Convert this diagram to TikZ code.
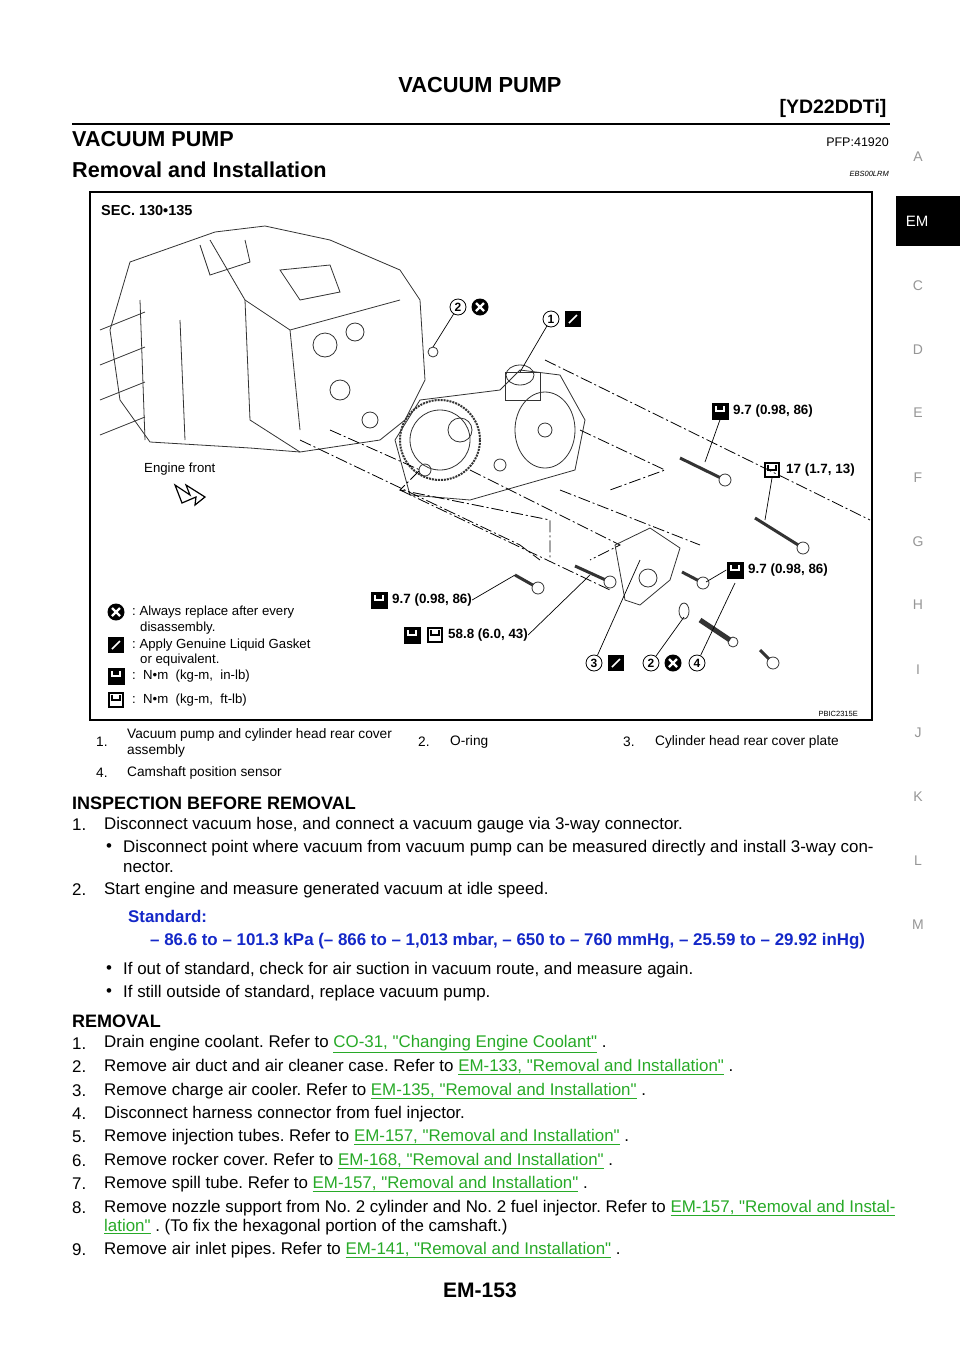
\documentclass[tikz,border=0pt]{standalone}
\usepackage{fontspec}
\setmainfont{Liberation Sans}
\newfontfamily\nq{Liberation Sans}[Ligatures=TeXOff]
\usetikzlibrary{calc}
\definecolor{lk}{RGB}{40,170,40}
\definecolor{bl}{RGB}{20,40,200}
\definecolor{gr}{RGB}{150,150,150}
\newcommand{\lk}[1]{\textcolor{lk}{\underline{#1}}}
\newcommand{\qq}{{\nq"}}
\frenchspacing
\begin{document}
\begin{tikzpicture}[x=1pt,y=-1pt,
  body/.style={anchor=west,inner sep=0pt,font=\fontsize{16.9}{19}\selectfont},
  tbl/.style={anchor=west,inner sep=0pt,font=\fontsize{13.7}{16}\selectfont},
  lbl/.style={anchor=west,inner sep=0pt,font=\fontsize{13.4}{15}\selectfont\bfseries},
  leg/.style={anchor=west,inner sep=0pt,font=\fontsize{13.2}{15}\selectfont},
  tab/.style={inner sep=0pt,text=gr,font=\fontsize{14}{16}\selectfont},
  num/.style={circle,draw,thick,inner sep=0.5pt,minimum size=16pt,font=\fontsize{12}{12}\selectfont\bfseries},
  xc/.style={circle,fill=black,minimum size=17pt,inner sep=0pt,path picture={\draw[white,line width=2.2pt] ($(path picture bounding box.center)+(-4,-4)$)--+(8,8) ($(path picture bounding box.center)+(4,-4)$)--+(-8,8);}},
  gk/.style={rectangle,fill=black,minimum size=16pt,inner sep=0pt,path picture={\draw[white,line width=1.5pt] ($(path picture bounding box.center)+(-4,4)$)--+(8,-8);}},
  tq/.style={rectangle,fill=black,minimum size=17pt,inner sep=0pt,path picture={\draw[white,line width=1.6pt] ($(path picture bounding box.center)+(-4,-5)$)--+(0,5)--+(8,5)--+(8,0);}},
  tqo/.style={rectangle,draw,line width=2pt,minimum size=14pt,inner sep=0pt,path picture={\draw[line width=1.6pt] ($(path picture bounding box.center)+(-4,-5)$)--+(0,5)--+(8,5)--+(8,0);}},
  eng/.style={draw=black!80,line width=0.8pt},
  dd/.style={draw,line width=0.8pt,dash pattern=on 12pt off 3pt on 2pt off 3pt},
  ld/.style={draw,line width=0.7pt}]
\useasboundingbox (0,0) rectangle (960,1358);
\fill[white] (0,0) rectangle (960,1358);
% header
\node[font=\fontsize{21.8}{24}\selectfont\bfseries] (t) at (480,85) {VACUUM PUMP};
\node[anchor=east,font=\fontsize{19.5}{22}\selectfont\bfseries] (m) at (890,108) {[YD22DDTi]};
\draw[line width=2.5pt] (72,124) -- (890,124);
\node[anchor=west,inner sep=0pt,font=\fontsize{21.6}{24}\selectfont\bfseries] (h1) at (72,139) {VACUUM PUMP};
\node[anchor=east,inner sep=0pt,font=\fontsize{12.5}{14}\selectfont] (pfp) at (889,142) {PFP:41920};
\node[anchor=west,inner sep=0pt,font=\fontsize{21.6}{24}\selectfont\bfseries] (h2) at (72,170) {Removal and Installation};
\node[anchor=east,inner sep=0pt,font=\fontsize{7.5}{9}\selectfont\itshape] (ebs) at (889,174) {EBS00LRM};
% side tabs
\fill (896,196) rectangle (960,246);
\node[text=white,font=\fontsize{15}{16}\selectfont] (em) at (917,221) {EM};
\foreach \l/\y in {A/157,C/286,D/350,E/413,F/478,G/542,H/605,I/670,J/733,K/797,L/861,M/925}
  \node[tab] (tab\l) at (918,\y) {\l};
% diagram frame
\draw[line width=1.2pt] (90,192) rectangle (872,720);
\node[lbl,font=\fontsize{14.5}{16}\selectfont\bfseries] (sec) at (101,211) {SEC. 130•135};
\node[anchor=east,inner sep=0pt,font=\fontsize{7.5}{9}\selectfont] (pbic) at (858,714) {PBIC2315E};
% engine block (simplified)
\draw[eng] (130,262) -- (215,232) -- (265,226) -- (330,240) -- (400,270) -- (420,300) -- (425,380) -- (405,420) -- (380,440) -- (300,452) -- (250,448) -- (150,442) -- (120,400) -- (110,330) -- cycle;
\draw[eng] (210,240) -- (245,300) -- (290,330) -- (400,300);
\draw[eng] (245,300) -- (250,420) -- (300,452);
\draw[eng] (290,330) -- (300,430);
\draw[eng] (200,245) -- (210,275) -- (250,262) -- (245,240);
\draw[eng] (280,270) -- (300,300) -- (340,292) -- (330,265) -- cycle;
\draw[eng] (325,345) circle (12);
\draw[eng] (355,332) circle (9);
\draw[eng] (340,390) circle (10);
\draw[eng] (370,420) circle (8);
\foreach \y in {330,365,400,435} \draw[eng] (100,\y) -- (145,\y-18);
\draw[eng] (140,300) -- (145,440);
\draw[eng] (180,320) -- (185,440);
% gear and pump
\draw[eng,line width=2pt,densely dotted] (440,440) circle (40);
\draw[eng] (440,440) circle (30);
\draw[eng] (395,440) -- (420,400) -- (500,390) -- (520,370) -- (560,375) -- (585,420) -- (575,470) -- (540,480) -- (470,500) -- (410,495) -- cycle;
\draw[eng] (505,372) rectangle (540,400);
\draw[eng] (520,375) ellipse (14 and 10);
\draw[eng] (545,430) ellipse (30 and 38);
\draw[eng] (545,430) circle (7);
\draw[eng] (460,430) circle (12);
\draw[eng] (425,470) circle (6);
\draw[eng] (500,465) circle (6);
\draw[eng] (433,352) circle (5);
% dash-dot lines
\draw[dd] (300,440) -- (520,545) -- (540,560);
\draw[dd] (330,430) -- (420,470) -- (400,490) -- (550,520) -- (550,560);
\draw[dd] (545,360) -- (870,520);
\draw[dd] (470,470) -- (620,545) -- (590,560);
\draw[dd] (400,490) -- (610,590);
\draw[dd] (580,430) -- (665,470) -- (610,490);
\draw[dd] (560,490) -- (700,545);
% bolts
\foreach \a/\b in {{(680,458)}/{(725,480)},{(755,518)}/{(803,548)},{(515,575)}/{(538,588)},{(575,566)}/{(610,582)},{(682,572)}/{(703,583)},{(760,650)}/{(773,663)}}
  {\draw[eng,line width=3pt] \a -- \b; \draw[eng,fill=white] \b circle (6);}
% cover plate, O-ring, sensor
\draw[eng] (615,545) -- (650,528) -- (680,548) -- (670,580) -- (640,605) -- (625,600) -- cycle;
\draw[eng] (648,578) circle (9);
\draw[eng] (684,611) ellipse (5 and 8);
\draw[eng,line width=5pt] (700,620) -- (730,640);
\draw[eng] (733,642) circle (5);
% engine front
\node[leg] (ef) at (144,469) {Engine front};
\draw[line width=1.2pt] (175,485) -- (190,495) -- (186,485) -- (205,497) -- (195,505) -- (196,497) -- (182,503) -- cycle;
% callouts
\node[num] (n2a) at (458,307) {2}; \node[xc] (x2a) at (480,307) {};
\node[num] (n1) at (551,319) {1}; \node[gk] (g1) at (573,319) {};
\node[num] (n3) at (594,663) {3}; \node[gk] (g3) at (616,663) {};
\node[num] (n2b) at (651,663) {2}; \node[xc] (x2b) at (673,663) {};
\node[num] (n4) at (697,663) {4};
\coordinate (p2) at (433,347); \draw[ld] (n2a) -- (p2);
\coordinate (p1) at (520,372); \draw[ld] (n1) -- (p1);
\coordinate (p3) at (640,560); \draw[ld] (n3) -- (p3);
\coordinate (p2b) at (684,617); \draw[ld] (n2b) -- (p2b);
\coordinate (p4) at (735,583); \draw[ld] (n4) -- (p4);
% torque labels
\node[tq] (ia) at (720,411) {}; \node[lbl] (ta) at (733,411) {9.7 (0.98, 86)};
\coordinate (pa) at (705,462); \draw[ld] (ia.south) -- (pa);
\node[tqo] (ib) at (772,470) {}; \node[lbl] (tb) at (786,470) {17 (1.7, 13)};
\coordinate (pb) at (765,520); \draw[ld] (ib.south) -- (pb);
\node[tq] (ic) at (735,570) {}; \node[lbl] (tc) at (748,570) {9.7 (0.98, 86)};
\coordinate (pc) at (706,582); \draw[ld] (ic.west) -- (pc);
\node[tq] (id) at (379,600) {}; \node[lbl] (td) at (392,600) {9.7 (0.98, 86)};
\coordinate (pd) at (515,575); \draw[ld] (td.east) -- (pd);
\node[tq] (ie0) at (412,635) {};
\node[tqo] (ie) at (435,635) {}; \node[lbl] (te) at (448,635) {58.8 (6.0, 43)};
\coordinate (pe) at (590,575); \draw[ld] (te.east) -- (pe);
% legend
\node[xc] (lx) at (116,612) {}; \node[leg] (l1) at (132,612) {: Always replace after every};
\node[leg] (l1b) at (140,628) {disassembly.};
\node[gk] (lg) at (116,645) {}; \node[leg] (l2) at (132,645) {: Apply Genuine Liquid Gasket};
\node[leg] (l2b) at (140,660) {or equivalent.};
\node[tq] (lt) at (116,676) {}; \node[leg] (l3) at (132,676) {:\ \ N•m\ \ (kg-m,\ \ in-lb)};
\node[tqo] (lt2) at (116,700) {}; \node[leg] (l4) at (132,700) {:\ \ N•m\ \ (kg-m,\ \ ft-lb)};
% table
\node[tbl] (c1) at (96,742) {1.};
\node[tbl,align=left] (c1t) at (127,743) {Vacuum pump and cylinder head rear cover\\assembly};
\node[tbl] (c2) at (418,742) {2.}; \node[tbl] (c2t) at (450,742) {O-ring};
\node[tbl] (c3) at (623,742) {3.}; \node[tbl] (c3t) at (655,742) {Cylinder head rear cover plate};
\node[tbl] (c4) at (96,773) {4.}; \node[tbl] (c4t) at (127,773) {Camshaft position sensor};
% inspection
\node[body,font=\fontsize{18}{20}\selectfont\bfseries] (ins) at (72,803) {INSPECTION BEFORE REMOVAL};
\node[body] (i1n) at (72,825) {1.}; \node[body] (i1) at (104,825) {Disconnect vacuum hose, and connect a vacuum gauge via 3-way connector.};
\node[body] (b1d) at (106,848) {\textbullet}; \node[body] (b1) at (123,848) {Disconnect point where vacuum from vacuum pump can be measured directly and install 3-way con-};
\node[body] (b1b) at (123,867) {nector.};
\node[body] (i2n) at (72,890) {2.}; \node[body] (i2) at (104,890) {Start engine and measure generated vacuum at idle speed.};
\node[body,text=bl,font=\fontsize{16.9}{19}\selectfont\bfseries] (std) at (128,916) {Standard:};
\node[body,text=bl,font=\fontsize{16.9}{19}\selectfont\bfseries] (val) at (150,941) {– 86.6 to – 101.3 kPa (– 866 to – 1,013 mbar, – 650 to – 760 mmHg, – 25.59 to – 29.92 inHg)};
\node[body] (b2d) at (106,970) {\textbullet}; \node[body] (b2) at (123,970) {If out of standard, check for air suction in vacuum route, and measure again.};
\node[body] (b3d) at (106,993) {\textbullet}; \node[body] (b3) at (123,993) {If still outside of standard, replace vacuum pump.};
% removal
\node[body,font=\fontsize{18}{20}\selectfont\bfseries] (rem) at (72,1021) {REMOVAL};
\foreach \n/\y in {1/1044,2/1067,3/1091,4/1114,5/1137,6/1161,7/1184,8/1208,9/1250}
  \node[body] (rn\n) at (72,\y) {\n.};
\node[body] (r1) at (104,1044) {Drain engine coolant. Refer to \lk{CO-31, \qq Changing Engine Coolant\qq} .};
\node[body] (r2) at (104,1067) {Remove air duct and air cleaner case. Refer to \lk{EM-133, \qq Removal and Installation\qq} .};
\node[body] (r3) at (104,1091) {Remove charge air cooler. Refer to \lk{EM-135, \qq Removal and Installation\qq} .};
\node[body] (r4) at (104,1114) {Disconnect harness connector from fuel injector.};
\node[body] (r5) at (104,1137) {Remove injection tubes. Refer to \lk{EM-157, \qq Removal and Installation\qq} .};
\node[body] (r6) at (104,1161) {Remove rocker cover. Refer to \lk{EM-168, \qq Removal and Installation\qq} .};
\node[body] (r7) at (104,1184) {Remove spill tube. Refer to \lk{EM-157, \qq Removal and Installation\qq} .};
\node[body] (r8) at (104,1208) {Remove nozzle support from No. 2 cylinder and No. 2 fuel injector. Refer to \lk{EM-157, \qq Removal and Instal-}};
\node[body] (r8b) at (104,1227) {\lk{lation\qq} . (To fix the hexagonal portion of the camshaft.)};
\node[body] (r9) at (104,1250) {Remove air inlet pipes. Refer to \lk{EM-141, \qq Removal and Installation\qq} .};
\node[font=\fontsize{21}{22}\selectfont\bfseries] (pg) at (480,1290) {EM-153};
\end{tikzpicture}
\end{document}
